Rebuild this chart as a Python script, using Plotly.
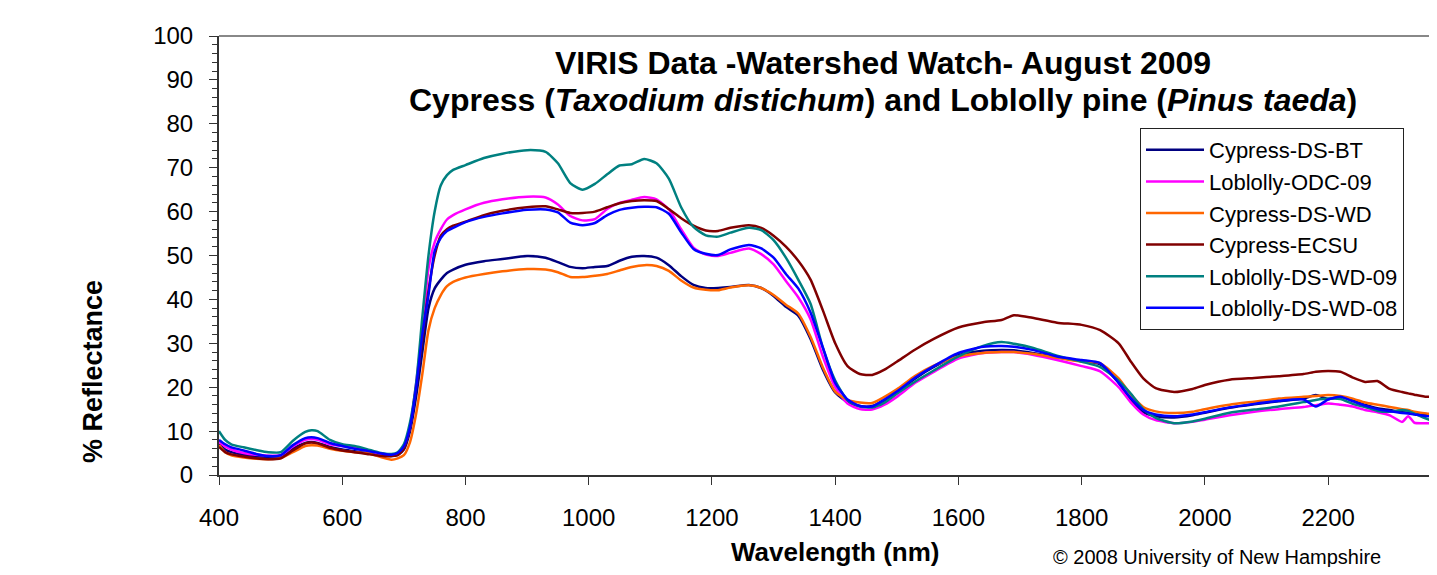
import plotly.graph_objects as go

wavelength = [400, 410, 420, 440, 460, 480, 500, 520, 540, 550, 560, 580, 600, 620, 640, 660, 680, 690,
              700, 710, 720, 730, 740, 750, 760, 770, 780, 800, 830, 860, 900, 930, 950, 970, 990,
              1010, 1030, 1050, 1070, 1090, 1110, 1130, 1150, 1170, 1190, 1210, 1230, 1260, 1280,
              1300, 1320, 1340, 1360, 1380, 1400, 1420, 1440, 1460, 1480, 1500, 1530, 1560, 1600,
              1640, 1670, 1690, 1720, 1760, 1800, 1830, 1860, 1880, 1900, 1920, 1950, 1980, 2000,
              2040, 2080, 2120, 2160, 2180, 2200, 2220, 2240, 2260, 2280, 2300, 2320, 2330, 2340,
              2360, 2380, 2400]

cypress_ds_bt = [7.0, 5.8, 5.2, 4.6, 4.2, 4.0, 4.1, 6.0, 7.3, 7.5, 7.3, 6.4, 5.8, 5.4, 5.0, 4.6, 4.3, 4.6,
                 5.8, 10, 18, 28, 38, 42.5, 44.5, 46.0, 46.8, 47.9, 48.7, 49.2, 49.9, 49.5, 48.5, 47.4, 47.1,
                 47.4, 47.6, 48.8, 49.7, 49.9, 49.5, 47.8, 45.3, 43.3, 42.6, 42.6, 42.8, 43.3, 42.6,
                 40.8, 38.3, 36.3, 31.0, 24.0, 18.8, 16.6, 15.7, 15.7, 17.0, 18.8, 22.0, 24.6, 27.3,
                 28.3, 28.5, 28.4, 27.8, 26.8, 25.9, 25.2, 21.0, 17.0, 14.3, 13.4, 13.1, 13.6, 14.2,
                 15.3, 16.1, 16.8, 17.4, 18.2, 17.3, 17.8, 17.0, 16.0, 15.2, 14.8, 14.3, 14.2, 14.0,
                 13.8, 13.6, 13.4]

loblolly_odc_09 = [7.5, 6.5, 5.8, 5.0, 4.6, 4.4, 4.5, 6.5, 8.0, 8.2, 8.0, 7.0, 6.6, 6.2, 5.6, 4.9, 4.6, 4.9,
                   6.5, 11, 21, 33, 47, 53, 56, 58.2, 59.2, 60.5, 62.0, 62.8, 63.4, 63.2, 61.6, 59.0, 58.0,
                   58.3, 60.6, 62.0, 62.7, 63.3, 62.8, 60.5, 56.0, 51.8, 50.2, 49.9, 50.6, 51.6, 50.3,
                   48.0, 44.2, 40.5, 35.5, 27.0, 20.0, 16.3, 15.0, 14.9, 16.0, 17.8, 21.0, 23.5, 26.5,
                   27.8, 28.0, 28.0, 27.4, 26.2, 24.8, 23.6, 20.0, 16.5, 13.8, 12.5, 11.8, 12.1, 12.6,
                   13.6, 14.4, 15.0, 15.5, 15.9, 16.3, 16.0, 15.6, 14.8, 14.3, 13.6, 12.1, 13.4, 11.9,
                   11.8, 11.7, 11.5]

cypress_ds_wd = [6.8, 5.2, 4.5, 4.0, 3.7, 3.6, 3.8, 5.2, 6.6, 6.8, 6.7, 6.0, 5.5, 5.2, 5.0, 4.2, 3.5, 3.8,
                 4.5, 7.5, 14, 23, 33, 38, 41, 43, 44.0, 45.0, 45.8, 46.4, 46.9, 46.8, 46.2, 45.1, 45.1,
                 45.4, 45.8, 46.6, 47.4, 47.8, 47.6, 46.5, 44.3, 42.7, 42.2, 42.1, 42.7, 43.2, 42.6,
                 41.0, 38.8, 36.8, 31.5, 24.5, 19.0, 17.1, 16.5, 16.4, 17.8, 19.5, 22.6, 24.9, 27.0,
                 27.8, 28.0, 28.0, 27.6, 26.7, 25.8, 25.5, 22.0, 18.3, 15.5, 14.5, 14.1, 14.4, 15.0,
                 16.0, 16.7, 17.4, 17.8, 18.0, 18.2, 18.0, 17.4, 16.5, 16.0, 15.5, 15.0, 14.8, 14.4,
                 14.0, 13.7, 13.5]

cypress_ecsu = [6.4, 5.2, 4.7, 4.2, 3.8, 3.6, 3.8, 5.6, 7.2, 7.4, 7.2, 6.2, 5.6, 5.2, 4.8, 4.4, 4.3, 4.5,
                6.0, 11, 20, 31, 42, 50, 54.5, 56, 56.8, 57.7, 59.2, 60.2, 61.0, 61.2, 60.5, 59.7, 59.7,
                60.0, 61.0, 61.9, 62.4, 62.6, 62.4, 60.6, 58.5, 56.8, 55.7, 55.6, 56.3, 56.9, 56.3,
                54.5, 52.0, 48.8, 44.5, 37.5, 30.0, 24.8, 23.0, 22.8, 24.0, 25.8, 28.6, 31.0, 33.6,
                34.8, 35.3, 36.4, 35.8, 34.7, 34.2, 33.0, 30.0, 25.8, 22.0, 19.8, 18.9, 19.6, 20.5,
                21.7, 22.1, 22.5, 23.0, 23.5, 23.7, 23.5, 22.2, 21.2, 21.4, 19.6, 18.9, 18.6, 18.3,
                17.8, 18.2, 18.0]

loblolly_ds_wd_09 = [10.0, 8.0, 7.0, 6.3, 5.7, 5.2, 5.2, 7.8, 9.8, 10.2, 10.0, 8.0, 7.0, 6.6, 5.9, 5.1, 4.8, 5.2,
                     7.0, 12, 21, 36, 50, 60, 66, 68.3, 69.5, 70.6, 72.2, 73.2, 74.0, 73.6, 71.0, 66.5, 65.0,
                     66.3, 68.5, 70.5, 70.8, 72.0, 71.0, 67.5, 61.0, 56.5, 54.6, 54.3, 55.2, 56.3, 55.8,
                     53.5, 49.5, 44.5, 39.0, 29.0, 21.5, 17.0, 15.6, 15.4, 16.5, 18.5, 21.3, 23.8, 27.0,
                     29.4, 30.3, 29.9, 29.0, 27.2, 25.8, 24.6, 21.5, 18.5, 15.0, 13.0, 11.8, 12.2, 12.8,
                     14.2, 14.9, 15.6, 16.6, 17.1, 17.4, 17.3, 16.2, 15.5, 14.6, 14.4, 14.8, 14.6, 14.0,
                     12.8, 11.8, 11.5]

loblolly_ds_wd_08 = [8.0, 7.0, 6.3, 5.6, 4.8, 4.3, 4.5, 6.8, 8.4, 8.6, 8.4, 7.3, 6.6, 6.0, 5.5, 5.0, 4.6, 5.0,
                     6.5, 11, 20, 32, 41, 51, 54, 55.6, 56.3, 57.6, 58.8, 59.6, 60.4, 60.5, 59.8, 57.5, 56.9,
                     57.4, 59.2, 60.4, 60.9, 61.1, 61.0, 59.5, 55.3, 51.5, 50.4, 50.1, 51.4, 52.4, 51.6,
                     49.5, 45.8, 42.5, 37.0, 29.0, 21.0, 17.2, 15.7, 15.6, 17.2, 19.0, 22.2, 24.8, 27.8,
                     29.2, 29.4, 29.2, 28.5, 27.0, 26.2, 25.5, 21.0, 17.5, 14.8, 13.8, 13.4, 13.8, 14.3,
                     15.4, 16.2, 16.9, 17.2, 15.6, 17.2, 17.8, 16.8, 15.8, 15.0, 14.5, 14.1, 14.0, 13.8,
                     13.4, 13.2, 13.0]

series_names = ["Cypress-DS-BT", "Loblolly-ODC-09", "Cypress-DS-WD", "Cypress-ECSU",
                "Loblolly-DS-WD-09", "Loblolly-DS-WD-08"]
series_values = [cypress_ds_bt, loblolly_odc_09, cypress_ds_wd, cypress_ecsu,
                 loblolly_ds_wd_09, loblolly_ds_wd_08]
series_colors = ["#000080", "#FF00FF", "#FF6600", "#800000", "#008080", "#0000FF"]

x_ticks = [400, 600, 800, 1000, 1200, 1400, 1600, 1800, 2000, 2200, 2400]
y_ticks = [0, 10, 20, 30, 40, 50, 60, 70, 80, 90, 100]

FONT = "Liberation Sans, Arial, sans-serif"

fig = go.Figure()
for name, vals, col in zip(series_names, series_values, series_colors):
    fig.add_trace(go.Scatter(x=wavelength, y=vals, name=name, mode="lines",
                             line=dict(color=col, width=2.5, shape="spline", smoothing=0.6)))

# page has an 8px body margin; figure sized so nothing overflows the 1437x575 window
OFF = 8
W, H = 1421, 559
L, R, T, B = 211, 0, 28, 92
pw = W - L - R
ph = H - T - B


def px(page_x):
    return (page_x - OFF - L) / pw


def py(page_y):
    return (H - B - (page_y - OFF)) / ph


x_max = 400 + pw / (1294 / 2100)

fig.update_layout(
    width=W, height=H,
    margin=dict(l=L, r=R, t=T, b=B, pad=0),
    paper_bgcolor="white", plot_bgcolor="white",
    font=dict(family=FONT, size=24, color="black"),
    showlegend=True,
    legend=dict(x=px(1140), y=py(128), xanchor="left", yanchor="top",
                bgcolor="white", bordercolor="#222222", borderwidth=1,
                font=dict(family=FONT, size=22, color="black"),
                itemwidth=58, tracegroupgap=0),
    xaxis=dict(range=[400, x_max], tickmode="array", tickvals=x_ticks,
               ticks="outside", ticklen=8, tickcolor="#333333", tickwidth=1,
               showline=True, linecolor="#333333", linewidth=2, showgrid=False, zeroline=False,
               ticklabelstandoff=12, tickfont=dict(size=24)),
    yaxis=dict(range=[0, 100], tickmode="array", tickvals=y_ticks,
               ticks="outside", ticklen=8, tickcolor="#333333", tickwidth=1,
               minor=dict(dtick=2, ticks="outside", ticklen=5, tickcolor="#333333"),
               showline=True, linecolor="#333333", linewidth=2, showgrid=False, zeroline=False,
               ticklabelstandoff=11, tickfont=dict(size=24)),
    shapes=[
        dict(type="line", xref="paper", yref="paper", x0=0, x1=1, y0=1, y1=1,
             line=dict(color="#888888", width=2)),
    ],
    annotations=[
        dict(text="<b>VIRIS Data -Watershed Watch- August 2009</b>", xref="paper", yref="paper",
             x=px(883), y=py(63), xanchor="center", yanchor="middle", showarrow=False,
             font=dict(family=FONT, size=32, color="black")),
        dict(text="<b>Cypress (<i>Taxodium distichum</i>) and Loblolly pine (<i>Pinus taeda</i>)</b>",
             xref="paper", yref="paper",
             x=px(883), y=py(100), xanchor="center", yanchor="middle", showarrow=False,
             font=dict(family=FONT, size=32, color="black")),
        dict(text="<b>Wavelength (nm)</b>", xref="paper", yref="paper",
             x=px(835), y=py(552), xanchor="center", yanchor="middle", showarrow=False,
             font=dict(family=FONT, size=26, color="black")),
        dict(text="<b>% Reflectance</b>", xref="paper", yref="paper", textangle=-90,
             x=px(93), y=py(372), xanchor="center", yanchor="middle", showarrow=False,
             font=dict(family=FONT, size=27, color="black")),
        dict(text="© 2008 University of New Hampshire", xref="paper", yref="paper",
             x=px(1217), y=py(557), xanchor="center", yanchor="middle", showarrow=False,
             font=dict(family=FONT, size=20, color="black")),
    ],
)

fig.write_html("out.html")
